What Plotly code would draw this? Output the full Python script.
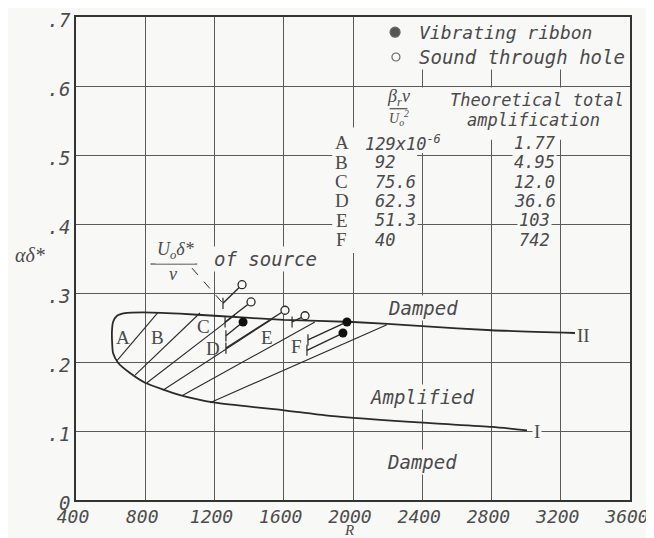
"""
Neutral stability curve with hatched amplification bands and source measurements.
"""
import plotly.graph_objects as go

# neutral curve, branch II (upper) from the nose outwards
upper_R = [608, 608, 614, 637, 683, 787, 1000, 1200, 1600, 2000, 2400, 2800, 3282]
upper_ad = [0.232, 0.246, 0.258, 0.267, 0.271, 0.272, 0.270, 0.267, 0.261, 0.258, 0.252, 0.246, 0.242]
# branch I (lower) from the nose outwards
lower_R = [608, 614, 643, 712, 799, 1001, 1203, 1601, 1867, 2404, 2803, 3005]
lower_ad = [0.232, 0.213, 0.199, 0.184, 0.170, 0.152, 0.141, 0.130, 0.122, 0.112, 0.106, 0.101]

# hatch lines bounding regions A-F (lower end -> upper end)
hatch_R0 = [637, 741, 810, 902, 1012, 1174]
hatch_y0 = [0.202, 0.181, 0.170, 0.159, 0.151, 0.141]
hatch_R1 = [874, 1116, 1318, 1532, 1780, 2196]
hatch_y1 = [0.272, 0.271, 0.268, 0.262, 0.258, 0.254]
region_labels = ["A", "B", "C", "D", "E", "F"]

# measurements and the U0 delta*/nu of their source
ribbon_R = [1365, 1965, 1942]
ribbon_ad = [0.258, 0.258, 0.242]
ribbon_src_R = [1266, 1740, 1734]
ribbon_src_ad = [0.238, 0.232, 0.217]
hole_R = [1359, 1411, 1607, 1723]
hole_ad = [0.312, 0.287, 0.275, 0.267]
hole_src_R = [1249, 1261, 1266, 1648]
hole_src_ad = [0.285, 0.258, 0.220, 0.258]

# table
table_letters = ["A", "B", "C", "D", "E", "F"]
beta_values = ["129x10<sup>-6</sup>", "92", "75.6", "62.3", "51.3", "40"]
amplification = ["1.77", "4.95", "12.0", "36.6", "103", "742"]

x_ticks = [400, 800, 1200, 1600, 2000, 2400, 2800, 3200, 3600]
y_ticks = [0, 0.1, 0.2, 0.3, 0.4, 0.5, 0.6, 0.7]
y_ticktext = ["0", ".1", ".2", ".3", ".4", ".5", ".6", ".7"]

BG = "#f8f8f7"
INK = "#2a2a2a"
TXT = "#4a4a4a"
MONO = "DejaVu Sans Mono"
SERIF = "Liberation Serif"

fig = go.Figure()

# neutral curve as one line round the nose
curve_R = upper_R[::-1] + lower_R[1:]
curve_ad = upper_ad[::-1] + lower_ad[1:]
fig.add_trace(go.Scatter(
    x=curve_R, y=curve_ad, mode="lines",
    line=dict(color=INK, width=1.8, shape="spline", smoothing=0.6),
    hoverinfo="skip",
))

hx, hy = [], []
for r0, y0, r1, y1 in zip(hatch_R0, hatch_y0, hatch_R1, hatch_y1):
    hx += [r0, r1, None]
    hy += [y0, y1, None]
fig.add_trace(go.Scatter(x=hx, y=hy, mode="lines",
                         line=dict(color=INK, width=1.1), hoverinfo="skip"))

# source leader lines
sx, sy = [], []
for r, a, rs, s in zip(ribbon_R + hole_R, ribbon_ad + hole_ad,
                       ribbon_src_R + hole_src_R, ribbon_src_ad + hole_src_ad):
    sx += [r, rs, None]
    sy += [a, s, None]
fig.add_trace(go.Scatter(x=sx, y=sy, mode="lines",
                         line=dict(color=INK, width=1.4), hoverinfo="skip"))
fig.add_trace(go.Scatter(
    x=ribbon_src_R + hole_src_R, y=ribbon_src_ad + hole_src_ad, mode="markers",
    marker=dict(symbol="line-ns", size=8, line=dict(color=INK, width=1.2)),
    hoverinfo="skip",
))

# dashed pointer from the "of source" label
fig.add_trace(go.Scatter(
    x=[1070, hole_src_R[0]], y=[0.336, hole_src_ad[0]], mode="lines",
    line=dict(color=INK, width=1, dash="dash"), hoverinfo="skip",
))

fig.add_trace(go.Scatter(
    x=hole_R, y=hole_ad, mode="markers",
    marker=dict(symbol="circle", size=8, color=BG, line=dict(color=INK, width=1.3)),
    name="Sound through hole",
))
fig.add_trace(go.Scatter(
    x=ribbon_R, y=ribbon_ad, mode="markers",
    marker=dict(symbol="circle", size=9, color="#111"),
    name="Vibrating ribbon",
))

# legend markers
fig.add_trace(go.Scatter(
    x=[2243, 2248], y=[0.678, 0.642], mode="markers",
    marker=dict(symbol="circle", size=[10, 8], color=["#111", BG],
                line=dict(color=INK, width=1.2)),
    hoverinfo="skip",
))

annotations = []


def label(x, y, text, size=19, family=MONO, italic=True, xanchor="center",
          xref="x", yref="y", bg=True):
    annotations.append(dict(
        x=x, y=y, xref=xref, yref=yref, text=text, showarrow=False,
        xanchor=xanchor, yanchor="middle",
        font=dict(family=family, size=size, color=TXT,
                  style="italic" if italic else "normal"),
        bgcolor=BG if bg else None, borderpad=1,
    ))


# legend text
label(2370, 0.678, "Vibrating ribbon", size=18, xanchor="left")
label(2370, 0.642, "Sound through hole", size=19, xanchor="left")

# table header
label(2265, 0.583, "β<sub>r</sub>ν", size=18, family=SERIF, bg=False)
label(2265, 0.553, "U<sub>o</sub><sup>2</sup>", size=14, family=SERIF, bg=False)
label(3060, 0.580, "Theoretical total", size=17, bg=False)
label(3040, 0.551, "amplification", size=17, bg=False)

for i, (let, b, amp) in enumerate(zip(table_letters, beta_values, amplification)):
    yy = 0.518 - i * 0.0282
    label(1936, yy, let, size=19, family=SERIF, italic=False, bg=False)
    label(2058 if i == 0 else 2115, yy, b, size=17, xanchor="left", bg=(i > 0))
    label(3050, yy, amp, size=17)

# region labels
for let, rx, ry in zip(region_labels, [671, 868, 1139, 1191, 1503, 1676],
                       [0.235, 0.235, 0.251, 0.220, 0.235, 0.222]):
    label(rx, ry, let, size=19, family=SERIF, italic=False, bg=False)

label(3330, 0.239, "II", size=19, family=SERIF, italic=False)
label(3060, 0.099, "I", size=19, family=SERIF, italic=False)

label(2405, 0.278, "Damped", size=19)
label(2400, 0.149, "Amplified", size=19)
label(2400, 0.055, "Damped", size=19)

# U0 delta*/nu of source
label(975, 0.362, "U<sub>o</sub>δ*", size=18, family=SERIF)
label(960, 0.327, "ν", size=18, family=SERIF, bg=False)
label(1497, 0.349, "of source", size=19)

# axis titles
label(-0.083, 0.355, "αδ*", size=20, family=SERIF, xref="paper", bg=False)
label(1977, -0.063, "R", size=15, family=SERIF, yref="paper", bg=False)

shapes = [
    # blank areas behind the legend and the table
    dict(type="rect", layer="between", x0=2010, x1=3600, y0=0.629, y1=0.7,
         fillcolor=BG, line=dict(width=0)),
    dict(type="rect", layer="between", x0=2010, x1=3600, y0=0.522, y1=0.598,
         fillcolor=BG, line=dict(width=0)),
    dict(type="rect", layer="between", x0=1880, x1=2370, y0=0.358, y1=0.54,
         fillcolor=BG, line=dict(width=0)),
    dict(type="rect", layer="between", x0=2360, x1=2460, y0=0.503, y1=0.53,
         fillcolor=BG, line=dict(width=0)),
    # fraction bars
    dict(type="line", x0=2212, x1=2315, y0=0.567, y1=0.567,
         line=dict(color=INK, width=1)),
    dict(type="line", x0=830, x1=1100, y0=0.342, y1=0.342,
         line=dict(color=INK, width=1)),
]

axis_common = dict(
    showgrid=True, gridcolor="#5a5a5a", gridwidth=1,
    showline=True, linecolor="#333", linewidth=1.5, mirror=True,
    zeroline=False, ticks="", automargin=False, ticklabeloverflow="allow",
)
tick_font = dict(family=MONO, color="#4d4d4d", style="italic")

# the page body adds an 8px offset, so the figure is 8px smaller than the window
fig.update_layout(
    width=646, height=530,
    margin=dict(l=68, r=24, t=9, b=38),
    paper_bgcolor=BG, plot_bgcolor=BG,
    showlegend=False,
    xaxis=dict(range=[400, 3600], tickvals=x_ticks, ticklabelshift=-3,
               tickfont=dict(size=18, **tick_font), **axis_common),
    yaxis=dict(range=[0, 0.7], tickvals=y_ticks, ticktext=y_ticktext,
               ticklabelshift=3,
               tickfont=dict(size=19, **tick_font), **axis_common),
    annotations=annotations,
    shapes=shapes,
)

fig.write_html("out.html")
